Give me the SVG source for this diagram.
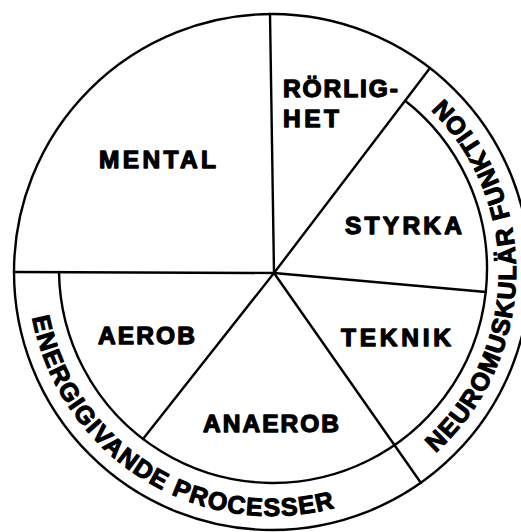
<svg xmlns="http://www.w3.org/2000/svg" width="521" height="532" viewBox="0 0 521 532">
<style>
.ln{fill:none;stroke:#000;stroke-width:2.4;stroke-linecap:round}
.lb{font-family:"Liberation Sans",Arial,sans-serif;font-weight:bold;font-size:24.5px;fill:#000;stroke:#000;stroke-width:1.3;stroke-linejoin:round}
.bd{font-family:"Liberation Sans",Arial,sans-serif;font-weight:bold;font-size:25px;fill:#000;stroke:#000;stroke-width:1.1;stroke-linejoin:round;letter-spacing:1.3px}
</style>
<defs>
<path id="pLeft" d="M 32.3 317.7 A 244 244 0 0 0 394 483.3"/>
<path id="pRight" d="M 435.6 453 A 244 244 0 0 0 394 60.7"/>
</defs>
<rect width="521" height="532" fill="#fff"/>
<g id="connectors">
<circle class="ln" cx="272" cy="272" r="258"/>
<path class="ln" d="M 59 272 A 214 214 0 1 0 405.2 100.7"/>
<line class="ln" x1="274" y1="273" x2="270" y2="14"/>
<line class="ln" x1="274" y1="273" x2="14" y2="272"/>
<line class="ln" x1="274" y1="273" x2="430" y2="68"/>
<line class="ln" x1="274" y1="273" x2="486" y2="292"/>
<line class="ln" x1="274" y1="273" x2="421" y2="483"/>
<line class="ln" x1="274" y1="273" x2="143" y2="439"/>
</g>
<g id="mental"><text class="lb" x="99" y="167.5" textLength="117" lengthAdjust="spacing">MENTAL</text></g>
<g id="rorlighet"><text class="lb" x="283" y="97" textLength="115" lengthAdjust="spacing">RÖRLIG-</text><text class="lb" x="283" y="127" textLength="56" lengthAdjust="spacing">HET</text></g>
<g id="styrka"><text class="lb" x="345" y="234" textLength="117" lengthAdjust="spacing">STYRKA</text></g>
<g id="teknik"><text class="lb" x="341" y="346" textLength="110" lengthAdjust="spacing">TEKNIK</text></g>
<g id="aerob"><text class="lb" x="98" y="344" textLength="97" lengthAdjust="spacing">AEROB</text></g>
<g id="anaerob"><text class="lb" x="203" y="432" textLength="136" lengthAdjust="spacing">ANAEROB</text></g>
<g id="energigivande"><text class="bd"><textPath href="#pLeft">ENERGIGIVANDE PROCESSER</textPath></text></g>
<g id="neuromuskular"><text class="bd"><textPath href="#pRight">NEUROMUSKULÄR FUNKTION</textPath></text></g>
</svg>
